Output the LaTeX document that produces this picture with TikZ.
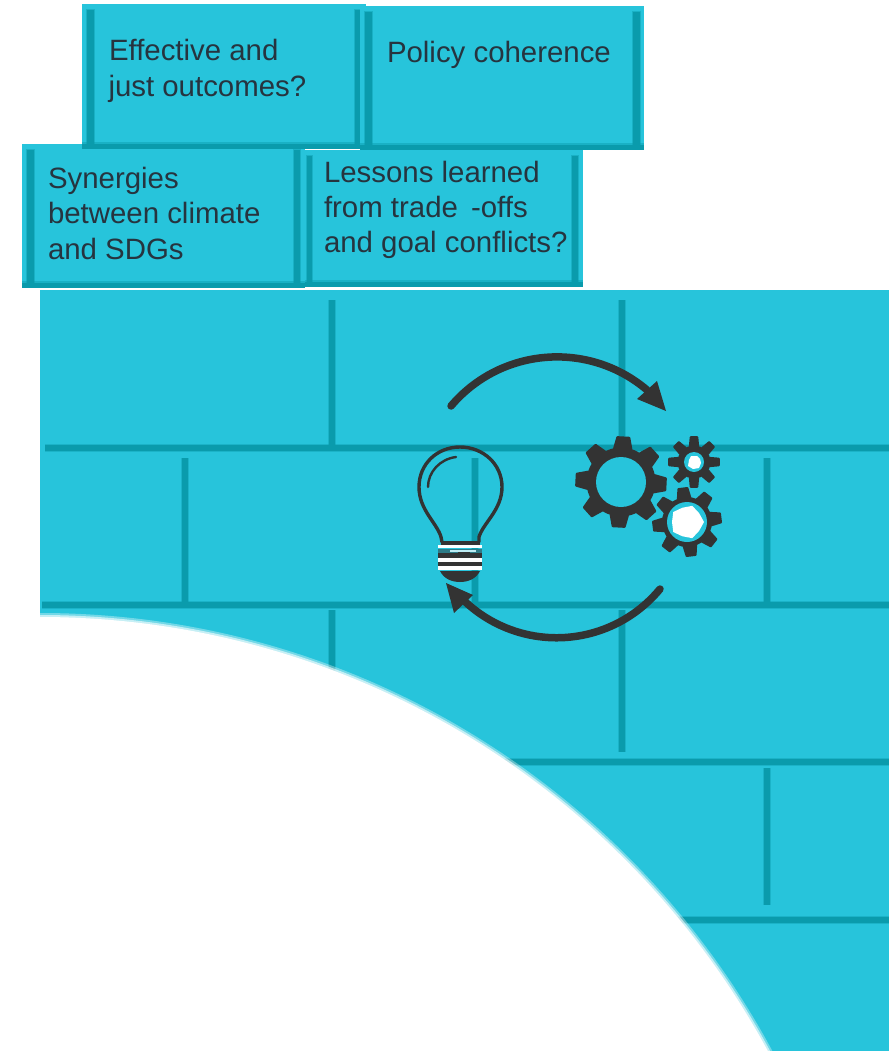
\documentclass[tikz,border=0pt]{standalone}
\usepackage{fontspec}
\setmainfont{Liberation Sans}
\usetikzlibrary{calc}
\definecolor{teal}{HTML}{27C4DB}
\definecolor{mortar}{HTML}{0A9BAC}
\definecolor{ink}{HTML}{26343F}
\definecolor{icon}{HTML}{333333}
\tikzset{
  brick/.style={fill=teal,draw=none},
  barline/.style={fill=mortar,draw=none},
  barsoft/.style={fill=mortar,opacity=.45,draw=none},
  joint/.style={draw=mortar,line width=8pt,opacity=.4},
  jointcore/.style={draw=mortar,line width=5.5pt},
  label/.style={anchor=base west,inner sep=0pt,outer sep=0pt,text=ink,font=\fontsize{29.4}{35}\selectfont},
  arcline/.style={draw=icon,line width=7.5pt,line cap=round},
  tip/.style={fill=icon,draw=none},
  bulbline/.style={draw=icon,line width=3.4pt,line cap=round,line join=round},
  tooth/.style={fill=icon,draw=icon,line width=2pt,line join=round},
}
% centre x, centre y, outer r, root r, teeth, rotation
\newcommand{\gearpath}[6]{%
  \pgfmathsetmacro{\stepa}{360/#5}%
  \pgfmathsetmacro{\rimw}{\stepa*0.32}%
  \pgfmathsetmacro{\topw}{\stepa*0.17}%
  \pgfmathsetmacro{\last}{#5-1}%
  \foreach \k in {0,...,\last}{%
    \pgfmathsetmacro{\ang}{#6+\k*\stepa}%
    \path[tooth] ($(#1,#2)+(\ang-\rimw:#4)$) -- ($(#1,#2)+(\ang-\topw:#3-1)$) -- ($(#1,#2)+(\ang+\topw:#3-1)$) -- ($(#1,#2)+(\ang+\rimw:#4)$) -- (#1,#2) -- cycle;
  }%
  \fill[icon] (#1,#2) circle[radius=#4];
}
\begin{document}
\begin{tikzpicture}[x=1pt,y=-1pt]
\useasboundingbox (0,0) rectangle (889,1051);
\fill[white] (0,0) rectangle (889,1051);
% wall
\fill[brick] (40,290) rectangle (889,1051);
\foreach \a/\b/\c/\d in {
 332/300/332/445, 622/300/622/445,
 185/458/185/602, 475/458/475/602, 767/458/767/602,
 332/610/332/675, 622/610/622/752, 767/768/767/905,
 45/448/889/448, 42/605/889/605, 505/762/889/762, 670/920/889/920}{
  \draw[joint] (\a,\b) -- (\c,\d);
  \draw[jointcore] (\a,\b) -- (\c,\d);
}
% white sweep with soft edge
\fill[white,opacity=.35] (40,1444) circle[radius=831];
\fill[white,opacity=.6] (40,1444) circle[radius=829];
\fill[white] (40,1444) circle[radius=827];
\fill[white] (0,290) rectangle (40,1051);
% boxes
\foreach \xa/\ya/\xb/\yb/\la/\lb/\ra/\rb in {
 22/144/305/288/27/34/294/300,
 305/150/583/287/307/312/572/578,
 82/4/366/149/87/94/355/360,
 360/6/644/150/365/372/633/640}{
  \fill[brick] (\xa,\ya) rectangle (\xb,\yb);
  \fill[barsoft] (\xa,\yb-7) rectangle (\xb,\yb);
  \fill[barline] (\xa,\yb-5) rectangle (\xb,\yb);
  \fill[barsoft] (\la-1,\ya+5) rectangle (\lb+1,\yb-2);
  \fill[barline] (\la,\ya+6) rectangle (\lb,\yb-2);
  \fill[barsoft] (\ra-1,\ya+5) rectangle (\rb+1,\yb-2);
  \fill[barline] (\ra,\ya+6) rectangle (\rb,\yb-2);
}
% labels
\node[label] (eff) at (109,61) {Effective and};
\node[label] (just) at (108.5,97) {just outcomes?};
\node[label] (pol) at (387,63) {Policy coherence};
\node[label] (syn) at (48,189) {Synergies};
\node[label] (btw) at (48,223.3) {between climate};
\node[label] (sdg) at (48,259) {and SDGs};
\node[label] (les) at (324,182.3) {Lessons learned};
\node[label] (frm) at (324,217.3) {from trade\, -offs};
\node[label] (goal) at (324,252.3) {and goal conflicts?};
% arrows
\coordinate (topstart) at (451,406);
\draw[arcline] (topstart) arc[start angle=-139.7,end angle=-49.7,x radius=139,y radius=139];
\fill[tip] (666,411) -- (657,381) -- (637,399) -- cycle;
\coordinate (botstart) at (660,589);
\draw[arcline] (botstart) arc[start angle=39.5,end angle=132.9,x radius=134,y radius=134];
\fill[tip] (446,583) -- (473,595) -- (454,613) -- cycle;
% gears
\gearpath{621}{482}{46}{34.5}{8}{3}
\fill[teal] (621,482) circle[radius=25];
\gearpath{694}{462}{26}{16.5}{8}{0}
\fill[teal] (694,462) circle[radius=10];
\fill[white] (701,463) -- (699,468) -- (693,469) -- (688,466) -- (689,460) -- (691,456) -- (697,456) -- (700,459) -- cycle;
\gearpath{687}{522}{35}{25}{8}{-7}
\fill[teal] (687,522) circle[radius=20];
\fill[white] (704,522) -- ($(687,522)+(36:15)$) -- ($(687,522)+(72:17)$) -- ($(687,522)+(108:15)$) -- ($(687,522)+(144:17)$) -- ($(687,522)+(180:15)$) -- ($(687,522)+(216:17)$) -- ($(687,522)+(252:15)$) -- ($(687,522)+(288:17)$) -- ($(687,522)+(324:15)$) -- cycle;
% bulb
\draw[bulbline] (442,542) -- (441,537) .. controls (437,523) and (419,510) .. (419,487)
  .. controls (419,464) and (437,447) .. (460,447)
  .. controls (483,447) and (502,464) .. (502,487)
  .. controls (502,510) and (483,523) .. (479,537) -- (479,542);
\draw[icon,line width=2.4pt,line cap=round] (428,487) .. controls (428,472) and (440,459) .. (456,457);
\fill[icon] (441,541) rectangle (480,545);
\fill[icon] (438,549) rectangle (482,570);
\fill[white] (438,545) rectangle (482,548);
\fill[teal!50!icon] (438,549) rectangle (482,553);
\fill[teal!30!white] (450,550) rectangle (476,552);
\fill[icon] (458,552) rectangle (470,556);
\fill[white] (438,558) rectangle (482,561.5);
\fill[white] (438,566) rectangle (482,569.5);
\fill[icon] (440,571) .. controls (444,579) and (452,582) .. (460,582) .. controls (468,582) and (476,579) .. (480,571) -- cycle;
\end{tikzpicture}
\end{document}
